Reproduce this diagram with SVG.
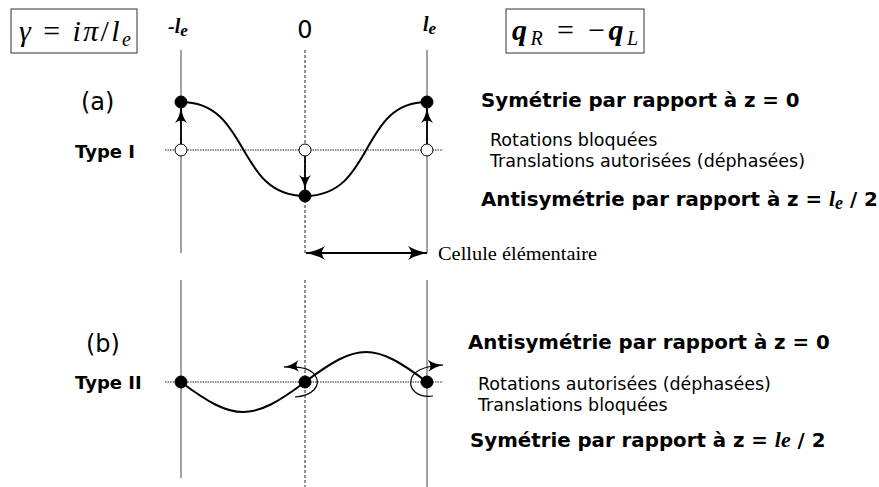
<svg xmlns="http://www.w3.org/2000/svg" width="879" height="487" viewBox="0 0 879 487">
<defs>
<marker id="ah" viewBox="0 0 20 14" refX="19" refY="7" markerWidth="20" markerHeight="14" markerUnits="userSpaceOnUse" orient="auto-start-reverse">
<path d="M0,0 Q8,5 20,7 Q8,9 0,14 Q6,7 0,0 z" fill="#000"/>
</marker>
<marker id="ahs" viewBox="0 0 16 12" refX="15" refY="6" markerWidth="16" markerHeight="12" markerUnits="userSpaceOnUse" orient="auto">
<path d="M0,0 Q7,5 16,6 Q7,7 0,12 Q5,6 0,0 z" fill="#000"/>
</marker>
</defs>
<style>
.vs{stroke:#444;stroke-width:1;fill:none}
.vd{stroke:#222;stroke-width:1;stroke-dasharray:3,2;fill:none}
.hd{stroke:#222;stroke-width:1;stroke-dasharray:1.5,1;fill:none}
.crv{stroke:#000;stroke-width:2;fill:none}
.arr{stroke:#000;stroke-width:1.8;fill:none}
.rot{stroke:#000;stroke-width:1.2;fill:none}
.fill{fill:#000;stroke:#000;stroke-width:1}
.open{fill:#fff;stroke:#000;stroke-width:1}
.bx{fill:#fff;stroke:#333;stroke-width:1}
.math{font-family:"Liberation Serif",serif;font-style:italic;font-size:30px;fill:#000}
.mup{font-family:"Liberation Serif",serif;font-style:normal;font-size:30px;fill:#000}
.lab{font-family:"DejaVu Sans",sans-serif;font-size:24px;fill:#000}
.typ{font-family:"DejaVu Sans",sans-serif;font-weight:bold;font-size:18px;fill:#000}
.hd1{font-family:"DejaVu Sans",sans-serif;font-weight:bold;font-size:19.8px;fill:#000}
.nrm{font-family:"DejaVu Sans",sans-serif;font-size:17.5px;fill:#000}
.le{font-family:"Liberation Serif",serif;font-weight:bold;font-style:italic;fill:#000}
.ser{font-family:"Liberation Serif",serif;font-size:19px;fill:#000}
</style>

<g id="gridlines">
<line class="vs" x1="181" y1="50" x2="181" y2="253"/>
<line class="vd" x1="305" y1="50" x2="305" y2="253"/>
<line class="vs" x1="427" y1="50" x2="427" y2="253"/>
<line class="vs" x1="181" y1="280" x2="181" y2="478"/>
<line class="vd" x1="305" y1="280" x2="305" y2="487"/>
<line class="vs" x1="427" y1="280" x2="427" y2="487"/>
<line class="hd" x1="165" y1="150" x2="443" y2="150"/>
<line class="hd" x1="165" y1="382" x2="443" y2="382"/>
</g>

<g id="formula-gamma">
<rect class="bx" x="11" y="9" width="126" height="44"/>
<text x="19" y="41" class="math" textLength="112" lengthAdjust="spacing">γ<tspan class="mup"> = </tspan>iπ<tspan class="mup">/</tspan>l<tspan font-size="20" dy="5">e</tspan></text>
</g>
<g id="formula-q">
<rect class="bx" x="506" y="9" width="138" height="44"/>
<text x="512" y="40" class="math" font-weight="bold" textLength="126" lengthAdjust="spacing">q<tspan font-size="20" dy="5" font-weight="normal">R</tspan><tspan dy="-5" class="mup" font-weight="normal"> = −</tspan>q<tspan font-size="20" dy="5" font-weight="normal">L</tspan></text>
</g>

<g id="axis-labels">
<text x="168" y="33" class="le" font-size="20">-l<tspan font-size="17" dy="3">e</tspan></text>
<text x="305" y="38" class="lab" text-anchor="middle">0</text>
<text x="423" y="31" class="le" font-size="20">l<tspan font-size="17" dy="3">e</tspan></text>
</g>

<g id="panel-a">
<text x="81" y="110" class="lab">(a)</text>
<text x="75" y="158" class="typ">Type I</text>
</g>

<g id="connectors">
<path class="crv" d="M181,102 C251,102 235,196 305,196 C375,196 359,102 427,102"/>
<line class="arr" x1="181" y1="144" x2="181" y2="108" marker-end="url(#ahs)"/>
<line class="arr" x1="305" y1="156" x2="305" y2="190" marker-end="url(#ahs)"/>
<line class="arr" x1="427" y1="144" x2="427" y2="108" marker-end="url(#ahs)"/>
<line class="arr" x1="306" y1="253" x2="427" y2="253" marker-start="url(#ah)" marker-end="url(#ah)"/>
<path class="crv" d="M181,382 C234,422 252,422 305,382 C358,342 374,342 427,382"/>
<path class="rot" d="M295,397 C312,396 322,386 315,375 C310,368 300,366 284,367" marker-end="url(#ahs)"/>
<path class="rot" d="M433,396 C418,398 409,390 411,380 C413,370 425,366 443,365" marker-end="url(#ahs)"/>
</g>

<g id="nodes-a">
<circle class="fill" cx="181" cy="102" r="6"/>
<circle class="fill" cx="427" cy="102" r="6"/>
<circle class="fill" cx="305" cy="196" r="6"/>
<circle class="open" cx="181" cy="150" r="6"/>
<circle class="open" cx="305" cy="150" r="6"/>
<circle class="open" cx="427" cy="150" r="6"/>
</g>
<g id="nodes-b">
<circle class="fill" cx="181" cy="382" r="6"/>
<circle class="fill" cx="305" cy="382" r="6"/>
<circle class="fill" cx="427" cy="382" r="6"/>
</g>

<g id="cell-label">
<text x="438" y="260" class="ser" textLength="159" lengthAdjust="spacingAndGlyphs">Cellule élémentaire</text>
</g>

<g id="text-a">
<text x="481" y="107" class="hd1">Symétrie par rapport à z = 0</text>
<text x="490" y="146" class="nrm">Rotations bloquées</text>
<text x="490" y="167" class="nrm">Translations autorisées (déphasées)</text>
<text x="481" y="206" class="hd1">Antisymétrie par rapport à z = <tspan class="le" font-size="22">l<tspan font-size="18" dy="3">e</tspan></tspan><tspan dy="-3"> / 2</tspan></text>
</g>

<g id="panel-b">
<text x="86" y="352" class="lab">(b)</text>
<text x="75" y="389" class="typ">Type II</text>
</g>

<g id="text-b">
<text x="468" y="349" class="hd1">Antisymétrie par rapport à z = 0</text>
<text x="478" y="390" class="nrm">Rotations autorisées (déphasées)</text>
<text x="478" y="411" class="nrm">Translations bloquées</text>
<text x="470" y="447" class="hd1">Symétrie par rapport à z = <tspan class="le" font-size="22">le</tspan> / 2</text>
</g>
</svg>
